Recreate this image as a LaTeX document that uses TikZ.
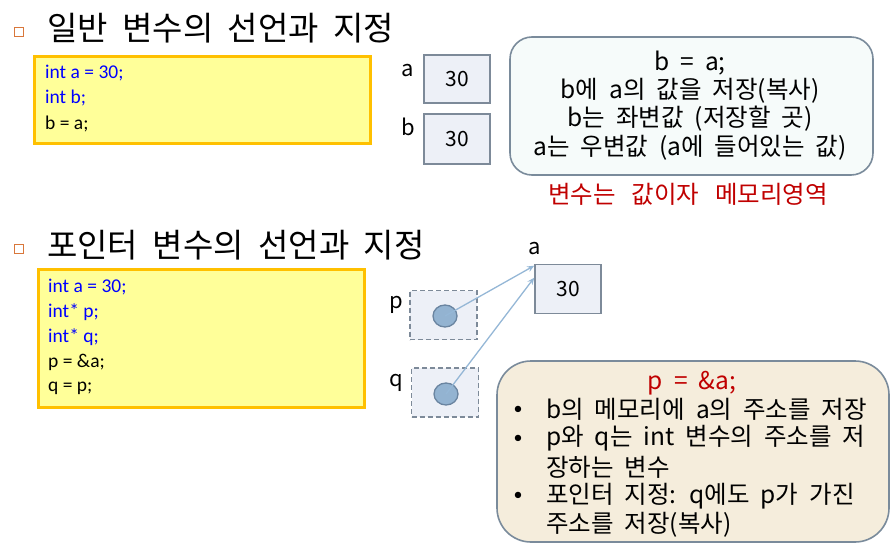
\documentclass[tikz,border=0pt]{standalone}
\usepackage{fontspec}
\setmainfont{Carlito}
\newfontfamily\kr{Noto Sans CJK KR}
\newcommand\krTitleFont{\kr\fontsize{33}{38}\selectfont\spaceskip=14.5pt plus 2pt minus 1pt\relax}
\newcommand\krNoteFont{\kr\fontsize{24.5}{27}\selectfont\spaceskip=11pt plus 2pt minus 1pt\relax}
\newcommand\krRedFont{\kr\fontsize{24.5}{27}\selectfont\spaceskip=16pt plus 2pt minus 1pt\relax}
\usetikzlibrary{arrows.meta,shapes.geometric,calc}
\definecolor{bulletor}{HTML}{D9773B}
\definecolor{codefill}{HTML}{FFFF99}
\definecolor{codeedge}{HTML}{FFC000}
\definecolor{varfill}{HTML}{EDF0F7}
\definecolor{varedge}{HTML}{7D8A99}
\definecolor{notefillA}{HTML}{F6FBFA}
\definecolor{notefillB}{HTML}{F5EDDC}
\definecolor{noteedge}{HTML}{7A8B9B}
\definecolor{dotfill}{HTML}{93B3D1}
\definecolor{dotedge}{HTML}{6A84A0}
\definecolor{arrowc}{HTML}{95B7D6}
\definecolor{redtxt}{HTML}{C00000}
\definecolor{codeblue}{HTML}{0000FF}
\tikzset{
  sqbullet/.style={draw=bulletor, line width=1.3pt, minimum size=9pt, inner sep=0pt},
  titletext/.style={anchor=west, inner sep=0pt, font=\krTitleFont},
  codebox/.style={draw=codeedge, fill=codefill, line width=3pt, inner sep=0pt},
  codeline/.style={anchor=west, inner sep=0pt, font=\fontsize{19.5}{22}\selectfont},
  varbox/.style={draw=varedge, fill=varfill, line width=1.6pt, inner sep=0pt, minimum width=66pt, minimum height=48pt, font=\kr\fontsize{21}{24}\selectfont},
  ptrbox/.style={draw=varedge, fill=varfill, line width=1.4pt, dash pattern=on 5pt off 3pt, inner sep=0pt, minimum width=67pt, minimum height=49pt},
  dotnode/.style={draw=dotedge, fill=dotfill, line width=1.3pt, ellipse, minimum width=24pt, minimum height=22pt, inner sep=0pt},
  varlabel/.style={inner sep=0pt, font=\kr\fontsize{22}{24}\selectfont},
  notetext/.style={inner sep=0pt, font=\krNoteFont},
  redtext/.style={inner sep=0pt, text=redtxt, font=\krRedFont},
  ptrarrow/.style={draw=arrowc, line width=1.3pt, -{Stealth[length=7pt,width=6pt]}},
  notebox/.style={draw=noteedge, line width=1.6pt},
}
\begin{document}
\begin{tikzpicture}[x=1pt,y=-1pt]
\useasboundingbox (0,0) rectangle (891,554);
% ---- section 1
\node[sqbullet] (bul1) at (19,32) {};
\node[titletext] (title1) at (47,28) {일반 변수의 선언과 지정};
\node[codebox, minimum width=336pt, minimum height=87pt] (code1) at (202,100) {};
\node[codeline, text=codeblue] (c1l1) at (45,73) {int a = 30;};
\node[codeline, text=codeblue] (c1l2) at (45,98) {int b;};
\node[codeline] (c1l3) at (45,124) {b = a;};
\node[varlabel] (la) at (408,71) {a};
\node[varbox] (boxa) at (457,79) {30};
\node[varlabel] (lb) at (408,127) {b};
\node[varbox, minimum height=50pt] (boxb) at (457,139) {30};
\draw[notebox, fill=notefillA, rounded corners=22pt] (510,37) rectangle (873,175);
\node[notetext] (n1l1) at (690,63) {b = a;};
\node[notetext] (n1l2) at (690,91) {b에 a의 값을 저장(복사)};
\node[notetext] (n1l3) at (690,119) {b는 좌변값 (저장할 곳)};
\node[notetext] (n1l4) at (690,148) {a는 우변값 (a에 들어있는 값)};
\node[redtext] (red1) at (688,194) {변수는 값이자 메모리영역};
% ---- section 2
\node[sqbullet] (bul2) at (19,249) {};
\node[titletext] (title2) at (47,245) {포인터 변수의 선언과 지정};
\node[codebox, minimum width=326pt, minimum height=138pt] (code2) at (201,338) {};
\node[codeline, text=codeblue] (c2l1) at (48,287) {int a = 30;};
\node[codeline, text=codeblue] (c2l2) at (48,312) {int* p;};
\node[codeline, text=codeblue] (c2l3) at (48,337) {int* q;};
\node[codeline] (c2l4) at (48,362) {p = \&a;};
\node[codeline] (c2l5) at (48,388) {q = p;};
\node[varlabel] (la2) at (535,249) {a};
\node[varbox, minimum height=49pt] (boxa2) at (568,289) {30};
\coordinate (tipp) at ($(boxa2.north west)+(0,2)$);
\coordinate (tipq) at ($(boxa2.north west)+(0,14)$);
\node[varlabel] (lp) at (396,305) {p};
\node[ptrbox] (boxp) at (443.5,315) {};
\node[dotnode] (dotp) at (445,316) {};
\node[varlabel] (lq) at (396,383) {q};
\node[ptrbox] (boxq) at (445,392.5) {};
\node[dotnode] (dotq) at (446,394) {};
\draw[ptrarrow] (dotp.center) -- (tipp);
\draw[ptrarrow] (dotq.center) -- (tipq);
\draw[notebox, fill=notefillB, rounded corners=34pt] (497,361) rectangle (889,542);
\node[notetext, text=redtxt] (n2l0) at (692,383) {p = \&a;};
\foreach \yy/\nm in {410/b1, 439/b2, 496/b3}{
  \node[inner sep=0pt, font=\fontsize{18}{20}\selectfont] (\nm) at (518,\yy) {•};
}
\node[notetext, anchor=west] (n2l1) at (546,409) {b의 메모리에 a의 주소를 저장};
\node[notetext, anchor=west] (n2l2) at (546,438) {p와 q는 int 변수의 주소를 저};
\node[notetext, anchor=west] (n2l3) at (546,467) {장하는 변수};
\node[notetext, anchor=west] (n2l4) at (546,496) {포인터 지정: q에도 p가 가진};
\node[notetext, anchor=west] (n2l5) at (546,525) {주소를 저장(복사)};
\end{tikzpicture}
\end{document}
